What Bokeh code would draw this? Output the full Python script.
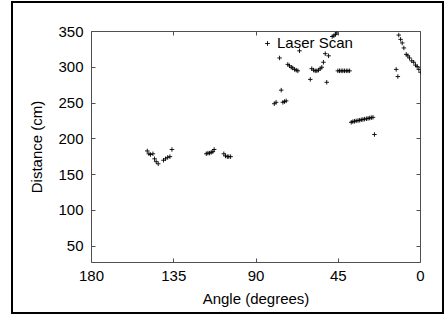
from bokeh.plotting import figure
from bokeh.models import Range1d, FixedTicker, LinearAxis, Legend, LegendItem
from bokeh.embed import file_html
from bokeh.resources import INLINE

# Data (angle in degrees, distance in cm)
angle = [149.5, 148.6, 147.7, 146.4, 145.5, 144.6, 143.5, 140.6, 139.5, 138.3, 137.1, 136.0,
         117.2, 116.3, 115.4, 114.5, 113.6, 112.9,
         107.6, 106.7, 105.7, 104.9, 103.9,
         80.0, 79.0, 77.1, 76.2, 75.3, 74.4, 73.5, 72.6, 71.7, 70.7, 69.9, 68.9, 68.0, 67.1, 66.2,
         60.3, 59.5, 58.5, 57.6, 56.7, 55.8, 54.9, 54.0, 53.1, 52.1, 51.3, 50.3,
         48.3, 47.4, 46.5, 45.8,
         45.2, 44.3, 43.4, 42.5, 41.6, 40.6, 39.7, 38.8,
         37.9, 37.0, 36.1, 35.2, 34.2, 33.3, 32.4, 31.5, 30.6, 29.6, 28.7, 27.8, 26.9, 26.0, 25.2,
         13.3, 12.4,
         11.9, 10.9, 10.0, 9.1, 7.8, 6.9, 6.0, 4.8, 3.7, 2.7, 1.8, 0.9, 0.0]
distance = [183, 179, 178, 179, 172, 168, 165, 170, 172, 174, 175, 185,
            179, 180, 180, 181, 182, 185,
            179, 176, 175, 175, 175,
            249, 251, 313, 268, 251, 252, 253, 304, 302, 300, 299, 297, 296, 295, 323,
            283, 298, 296, 295, 295, 296, 298, 300, 307, 319, 279, 316,
            343, 344, 346, 348,
            295, 295, 295, 295, 295, 295, 295, 295,
            223, 224, 224.5, 225, 225.5, 226, 226.5, 227, 227.5, 228, 228.5, 229, 229.5, 230, 206,
            297, 287,
            345, 339, 334, 327, 318, 316, 313, 309, 307, 303, 301, 297, 293]

x_ticks = [0, 45, 90, 135, 180]
y_ticks = [50, 100, 150, 200, 250, 300, 350]

FONT = "Liberation Sans"
FRAME = "#505050"

p = figure(output_backend="svg", toolbar_location=None,
           frame_width=329, frame_height=231,
           min_border_left=78, min_border_right=22, min_border_top=28, min_border_bottom=50,
           x_range=Range1d(180, 0), y_range=Range1d(27, 350),
           x_axis_label="Angle (degrees)", y_axis_label="Distance (cm)")
p.margin = (1, 0, 0, 11)
p.styles = {"border": "2px solid black"}
p.background_fill_color = "white"
p.border_fill_color = "white"
p.grid.visible = False
p.outline_line_color = FRAME
p.outline_line_width = 1

for ax in (p.xaxis[0], p.yaxis[0]):
    ax.axis_line_color = None
    ax.major_tick_in = 4
    ax.major_tick_out = 0
    ax.minor_tick_line_color = None
    ax.major_tick_line_color = FRAME
    ax.major_label_text_font = FONT
    ax.major_label_text_font_size = "15px"
    ax.major_label_text_color = "black"
    ax.axis_label_text_font = FONT
    ax.axis_label_text_font_size = "15px"
    ax.axis_label_text_font_style = "normal"
    ax.axis_label_text_color = "black"
p.xaxis[0].ticker = FixedTicker(ticks=x_ticks)
p.yaxis[0].ticker = FixedTicker(ticks=y_ticks)
p.xaxis[0].major_label_standoff = 8
p.xaxis[0].axis_label_standoff = 6
p.yaxis[0].major_label_standoff = 8
p.yaxis[0].axis_label_standoff = 10

# mirrored ticks on top and right (no labels)
top = LinearAxis(ticker=FixedTicker(ticks=x_ticks), axis_line_color=None,
                 major_tick_in=4, major_tick_out=0, minor_tick_line_color=None,
                 major_tick_line_color=FRAME, major_label_standoff=0,
                 major_label_overrides={t: "" for t in x_ticks})
right = LinearAxis(ticker=FixedTicker(ticks=y_ticks), axis_line_color=None,
                   major_tick_in=4, major_tick_out=0, minor_tick_line_color=None,
                   major_tick_line_color=FRAME, major_label_standoff=0,
                   major_label_overrides={t: "" for t in y_ticks})
p.add_layout(top, "above")
p.add_layout(right, "right")

r = p.scatter(angle, distance, marker="cross", size=4.5, line_color="black", line_width=0.9)

legend = Legend(items=[LegendItem(label="Laser Scan", renderers=[r])],
                location=(170, 211), padding=0, spacing=0, margin=0,
                glyph_width=12, glyph_height=16, label_height=16, label_standoff=4,
                border_line_color=None, background_fill_alpha=0,
                label_text_font=FONT, label_text_font_size="15px", label_text_color="black")
p.add_layout(legend, "center")

open("out.html", "w").write(file_html(p, INLINE))
